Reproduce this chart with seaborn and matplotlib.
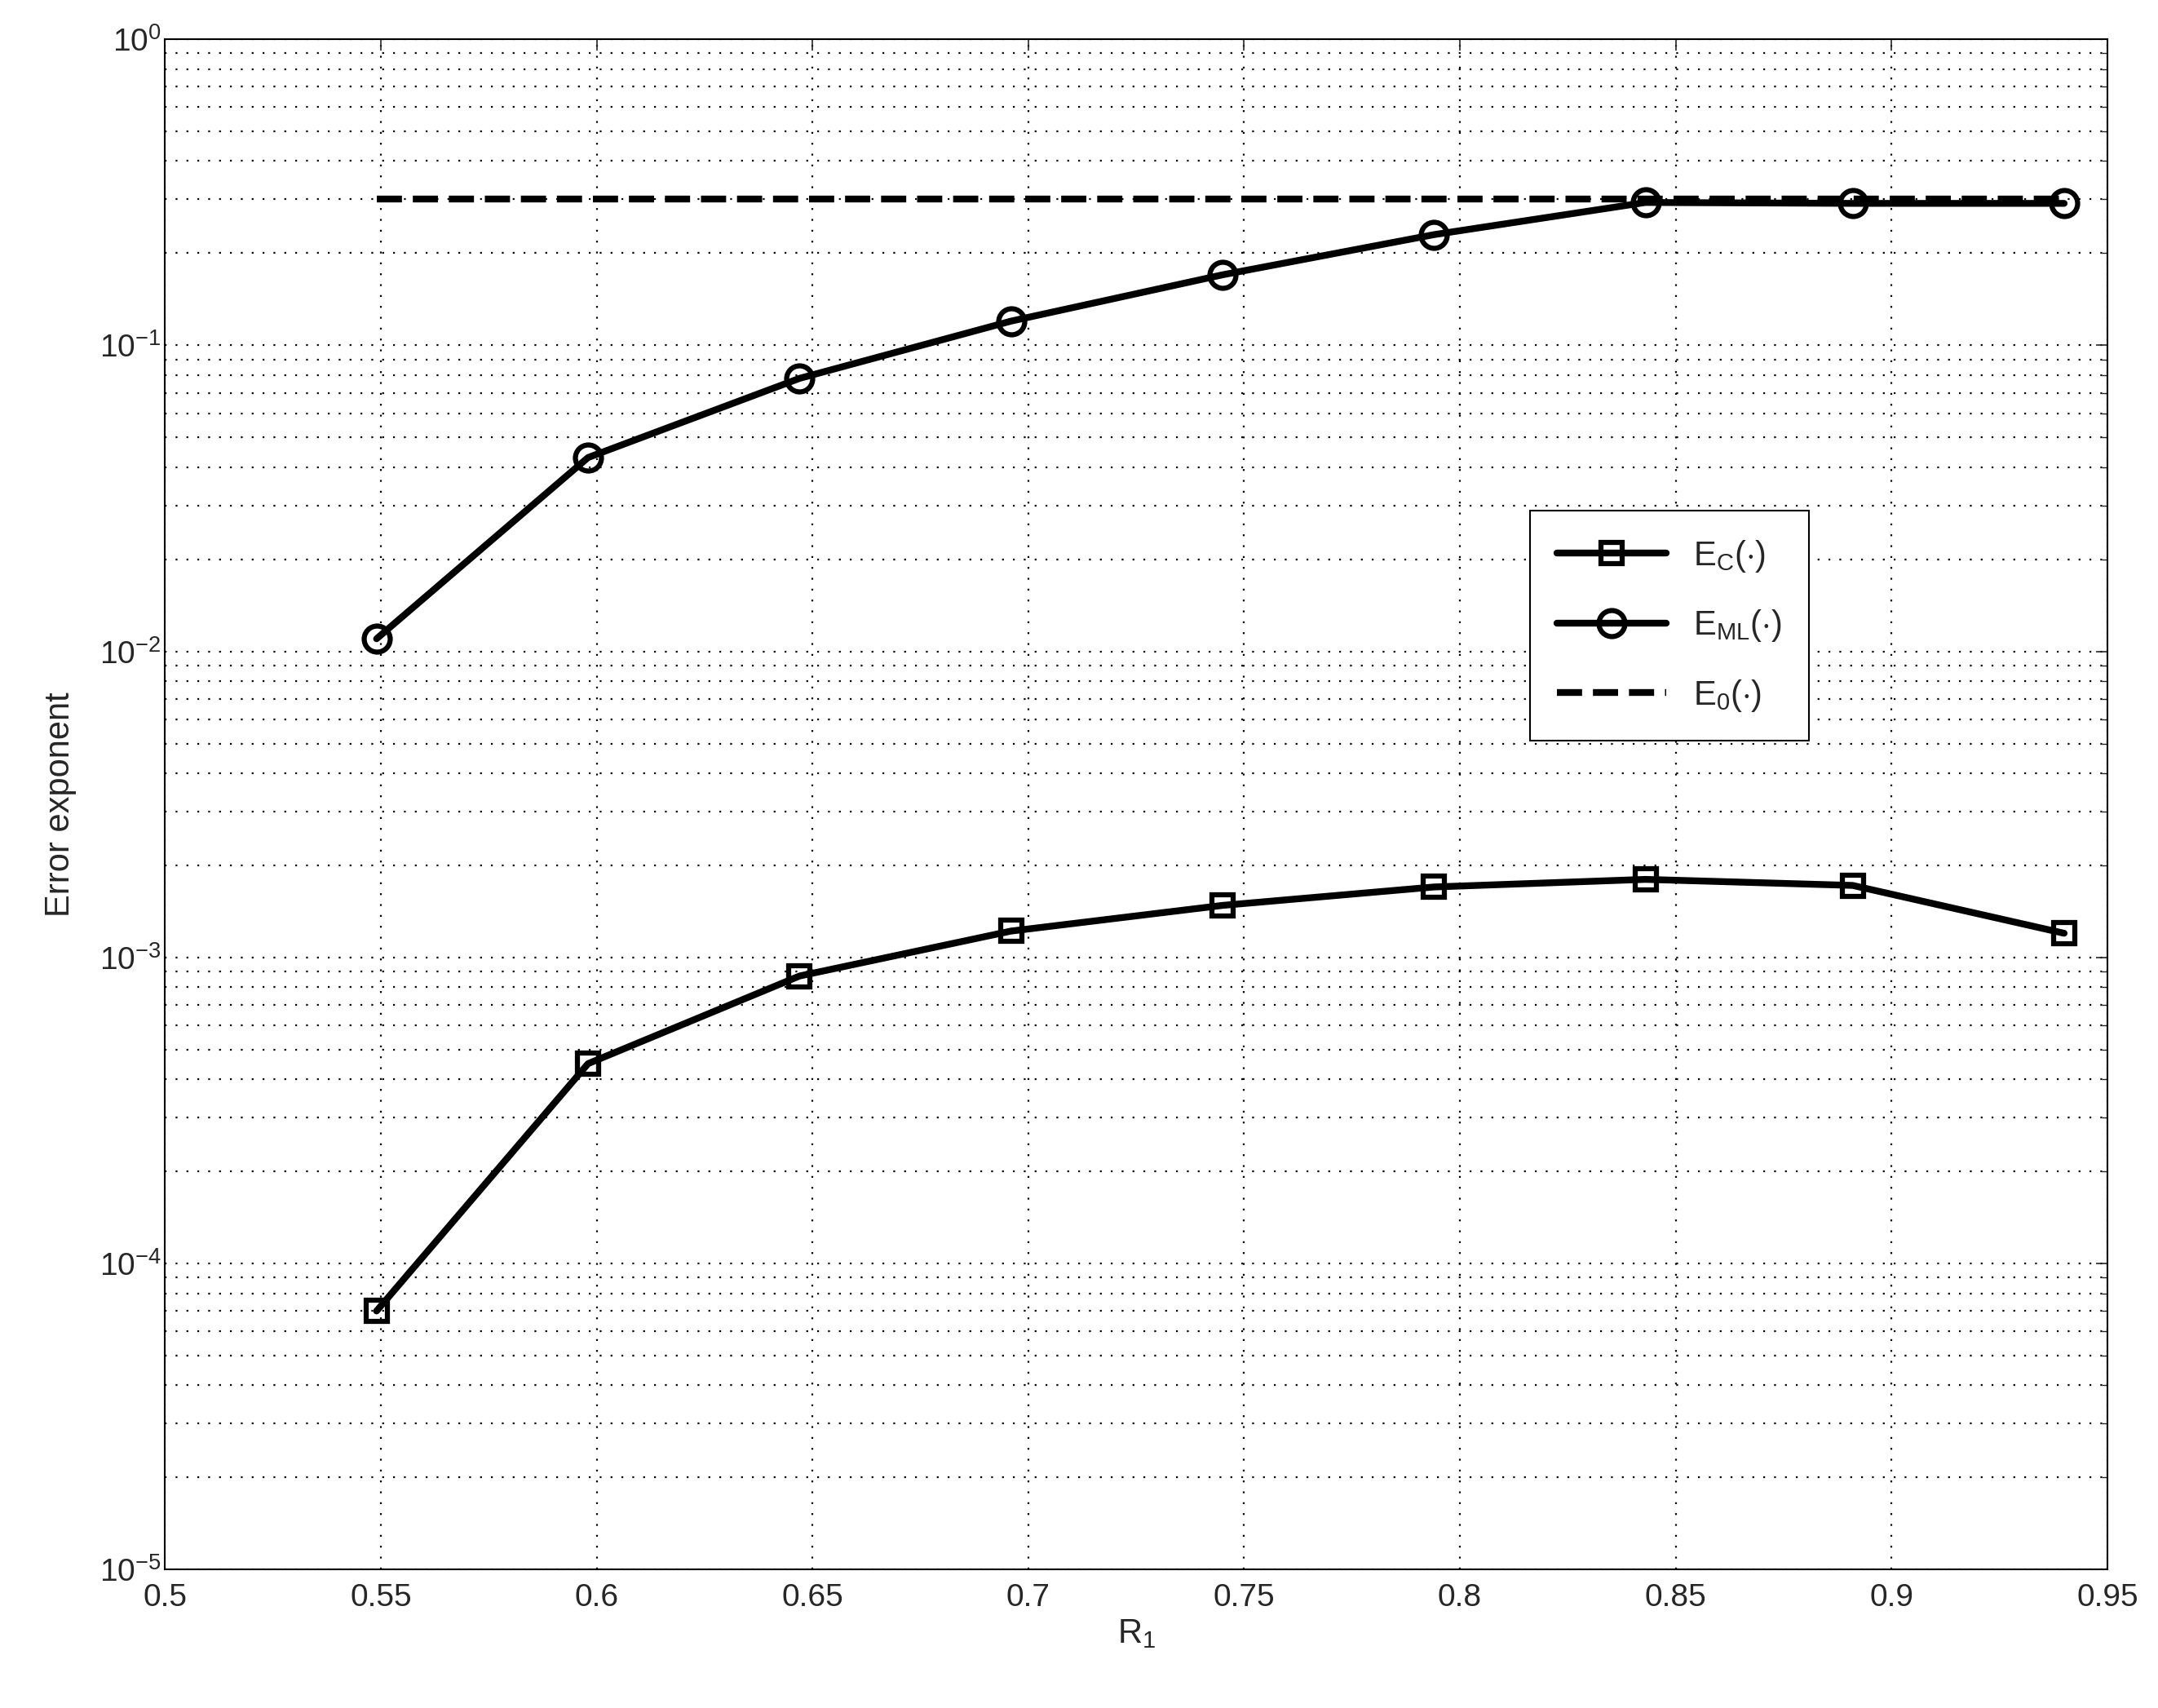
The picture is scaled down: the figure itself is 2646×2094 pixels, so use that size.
import numpy as np
import pandas as pd
import seaborn as sns
import matplotlib
matplotlib.use('Agg')
import matplotlib.pyplot as plt

r1 = [0.549, 0.598, 0.647, 0.696, 0.745, 0.794, 0.843, 0.891, 0.940]
e_ml = [0.011, 0.043, 0.078, 0.12, 0.17, 0.23, 0.293, 0.291, 0.291]
e_c = [7.0e-5, 4.5e-4, 8.7e-4, 1.22e-3, 1.48e-3, 1.7e-3, 1.8e-3, 1.72e-3, 1.2e-3]
e_0 = [0.3] * len(r1)

sns.set_style('white')
plt.rcParams['font.family'] = ['Liberation Sans', 'DejaVu Sans']
plt.rcParams['mathtext.fontset'] = 'custom'
plt.rcParams['mathtext.rm'] = 'Liberation Sans'

fig = plt.figure(figsize=(26.46, 20.94), dpi=100)
ax = fig.add_axes([0.0765, 0.081, 0.9, 0.896])

lw = 6
sns.lineplot(x=r1, y=e_c, ax=ax, color='black', lw=lw, marker='s', markersize=19,
             markerfacecolor='none', markeredgewidth=4.5, markeredgecolor='black',
             label=r'E$_\mathrm{C}$($\cdot$)')
sns.lineplot(x=r1, y=e_ml, ax=ax, color='black', lw=lw, marker='o', markersize=23,
             markerfacecolor='none', markeredgewidth=4.5, markeredgecolor='black',
             label=r'E$_\mathrm{ML}$($\cdot$)')
sns.lineplot(x=r1, y=e_0, ax=ax, color='black', lw=lw, linestyle='--',
             label=r'E$_\mathrm{0}$($\cdot$)')

ax.set_yscale('log')
ax.set_xlim(0.5, 0.95)
ax.set_ylim(1e-5, 1)
ax.set_xticks(np.arange(0.5, 0.951, 0.05))
ax.set_xticklabels(['0.5', '0.55', '0.6', '0.65', '0.7', '0.75', '0.8', '0.85', '0.9', '0.95'])
dots = (0, (1, 5))
ax.grid(True, which='major', axis='both', linestyle=dots, color='black', lw=1.6)
ax.grid(True, which='minor', axis='y', linestyle=dots, color='black', lw=1.6)
ax.tick_params(which='both', direction='in', labelsize=28, top=True, right=True)
ax.tick_params(which='major', length=10, width=1.2)
ax.tick_params(which='minor', length=5, width=1.0)
ax.tick_params(axis='x', pad=12)
for s in ax.spines.values():
    s.set_color('black')
    s.set_linewidth(1.5)

ax.set_xlabel(r'R$_\mathrm{1}$', fontsize=30)
ax.set_ylabel('Error exponent', fontsize=30, labelpad=20)

leg = ax.legend(loc='upper left', bbox_to_anchor=(0.694, 0.703), fontsize=30,
                handlelength=3.2, labelspacing=1.0, borderpad=0.8, fancybox=False,
                framealpha=1, edgecolor='black')
leg.get_frame().set_linewidth(1.5)

fig.savefig('out.png', dpi=100, facecolor='white')
